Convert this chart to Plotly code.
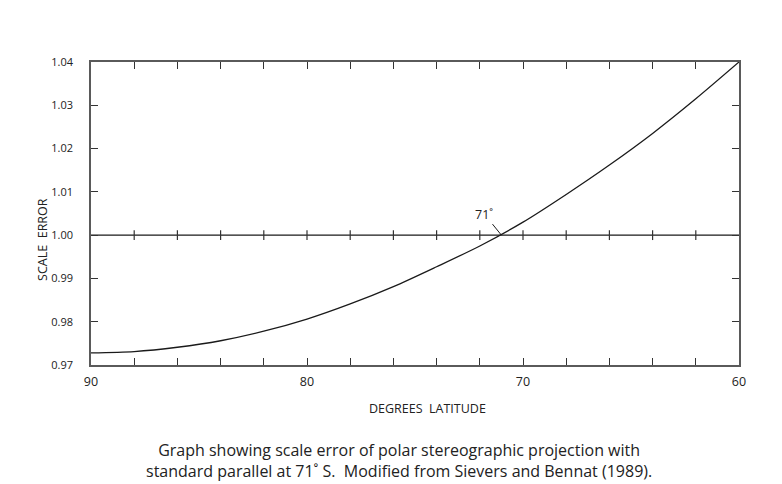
import plotly.graph_objects as go

# Data
latitude = [90, 88, 86, 84, 82, 80, 78, 76, 74, 72, 70, 68, 66, 64, 62, 60]
scale_error = [0.9728, 0.9731, 0.9741, 0.9756, 0.9778, 0.9806, 0.9841, 0.9881,
               0.9927, 0.9975, 1.0030, 1.0094, 1.0162, 1.0235, 1.0315, 1.0400]

x_ticks = list(range(60, 91, 2))
x_tick_labels = [str(v) if v % 10 == 0 else "" for v in x_ticks]
y_ticks = [0.97, 0.98, 0.99, 1.00, 1.01, 1.02, 1.03, 1.04]
y_tick_labels = ["0.97", "0.98", "0.99", "1.00", "1.01", "1.02", "1.03", "1.04"]
reference_value = 1.00
standard_parallel = 71

FONT = "Open Sans"
AXIS_COLOR = "#5a5a5a"
TICK_COLOR = "#333333"

fig = go.Figure()

# Reference line at 1.00
fig.add_trace(go.Scatter(
    x=x_ticks, y=[reference_value] * len(x_ticks),
    mode="lines", line=dict(color="#1a1a1a", width=1.3),
    hoverinfo="skip", showlegend=False,
))
# Ticks crossing the 1.00 line (interior tick positions)
fig.add_trace(go.Scatter(
    x=x_ticks[1:-1], y=[reference_value] * (len(x_ticks) - 2),
    mode="markers",
    marker=dict(symbol="line-ns-open", size=7, color=TICK_COLOR,
                line=dict(color=TICK_COLOR, width=1.2)),
    hoverinfo="skip", showlegend=False,
))

# Scale error curve
fig.add_trace(go.Scatter(
    x=latitude, y=scale_error, mode="lines",
    line=dict(color="#1a1a1a", width=1.3, shape="spline", smoothing=0.8),
    showlegend=False,
))

fig.update_xaxes(
    range=[90, 60], autorange=False,
    tickvals=x_ticks, ticktext=x_tick_labels,
    ticks="inside", ticklen=7, tickwidth=1.2, tickcolor=TICK_COLOR,
    showline=True, linecolor=AXIS_COLOR, linewidth=1.5, mirror="ticks",
    showgrid=False, zeroline=False,
    tickfont=dict(family=FONT, size=12.5, color="#222"),
    ticklabelstandoff=4,
)
fig.update_yaxes(
    range=[0.97, 1.04], autorange=False,
    tickvals=y_ticks, ticktext=y_tick_labels,
    ticks="inside", ticklen=7, tickwidth=1.2, tickcolor=TICK_COLOR,
    showline=True, linecolor=AXIS_COLOR, linewidth=1.5, mirror="ticks",
    showgrid=False, zeroline=False,
    tickfont=dict(family=FONT, size=11, color="#222"),
    ticklabelstandoff=14,
)

annotations = [
    dict(x=standard_parallel, y=reference_value, xref="x", yref="y",
         text="71˚", showarrow=True, arrowhead=0, arrowwidth=1, arrowcolor="#1a1a1a",
         ax=-17, ay=-21, standoff=0,
         font=dict(family=FONT, size=12.5, color="#222")),
    dict(x=0.52, y=-0.145, xref="paper", yref="paper", xanchor="center", yanchor="middle",
         text="DEGREES  LATITUDE", showarrow=False,
         font=dict(family=FONT, size=12.5, color="#222")),
    dict(x=-0.074, y=0.413, xref="paper", yref="paper", xanchor="center", yanchor="middle",
         text="SCALE  ERROR", textangle=-90, showarrow=False,
         font=dict(family=FONT, size=12.5, color="#222")),
    dict(x=0.475, y=0, xref="paper", yref="paper", xanchor="center", yanchor="top",
         yshift=-72,
         text="Graph showing scale error of polar stereographic projection with<br>"
              "standard parallel at 71˚ S.  Modified from Sievers and Bennat (1989).",
         showarrow=False, align="center",
         font=dict(family=FONT, size=16, color="#222")),
]

fig.update_layout(
    width=782, height=484,
    margin=dict(l=83, r=51, t=54, b=127),
    paper_bgcolor="white", plot_bgcolor="white",
    annotations=annotations,
    showlegend=False,
)

fig.write_html("out.html")
